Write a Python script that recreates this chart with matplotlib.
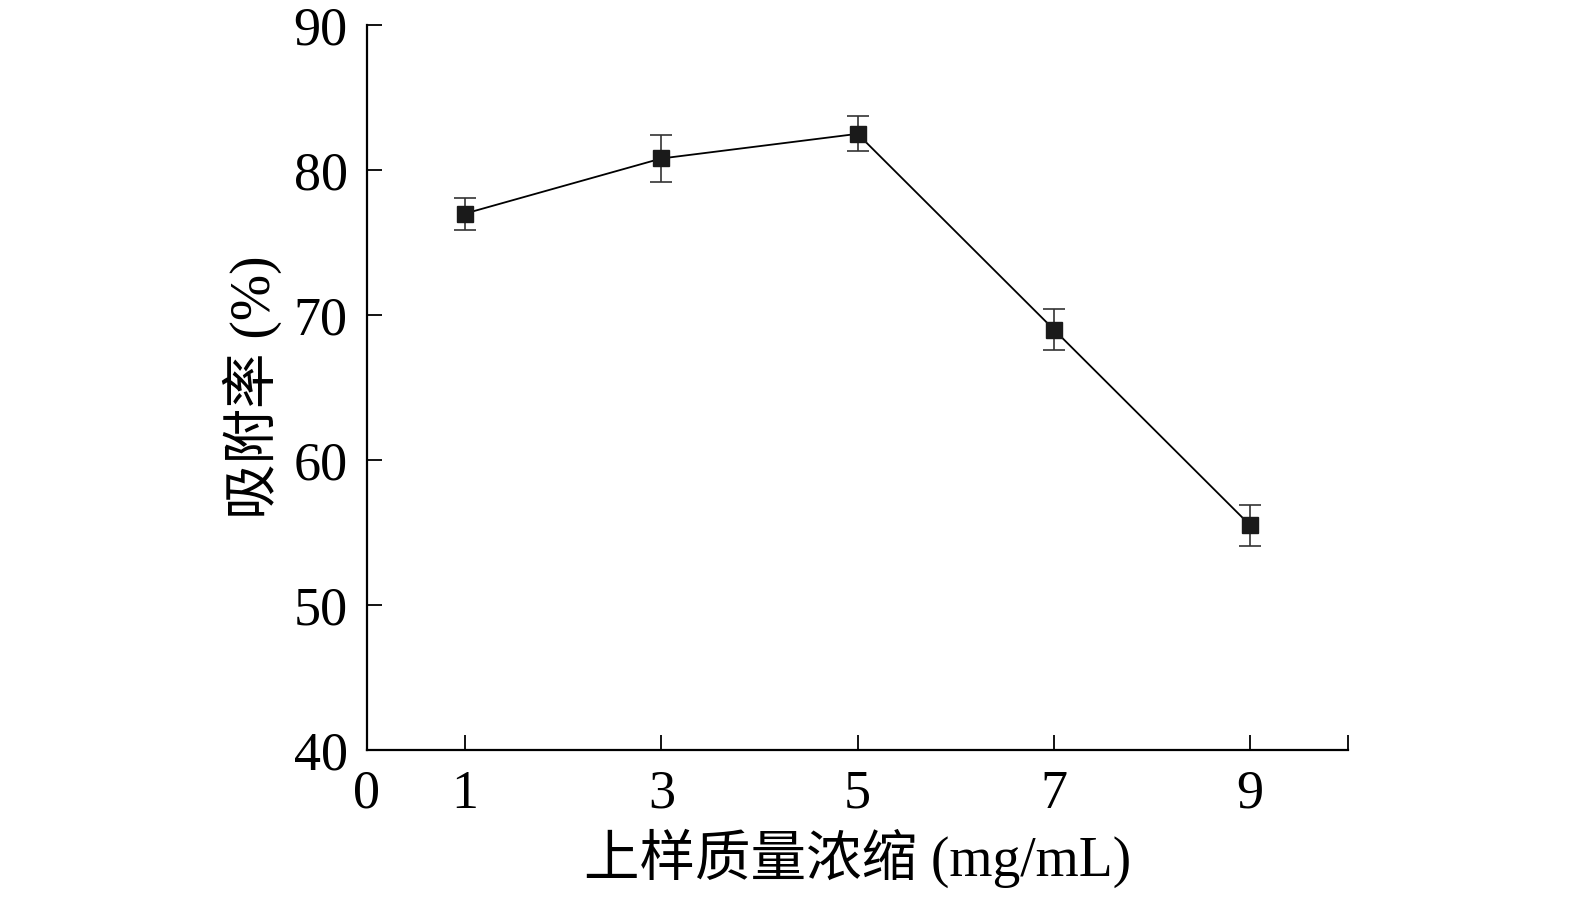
import numpy as np
import matplotlib
matplotlib.use("Agg")
import matplotlib.pyplot as plt

# ── data ──────────────────────────────────────────────────────────────────────
conc = [1, 3, 5, 7, 9]                      # 上样质量浓缩 (mg/mL)
adsorption = [77.0, 80.8, 82.5, 69.0, 55.5]  # 吸附率 (%)
err = [1.1, 1.6, 1.2, 1.4, 1.4]

x_ticks = [0, 1, 3, 5, 7, 9, 10]
x_tick_labels = ["0", "1", "3", "5", "7", "9", ""]
y_ticks = [40, 50, 60, 70, 80, 90]

plt.rcParams["font.family"] = ["Liberation Serif", "Noto Sans CJK SC"]
plt.rcParams["font.size"] = 38

fig = plt.figure(figsize=(15.75, 8.97), dpi=100)
ax = fig.add_axes([0.233, 0.164, 0.623, 0.808])

ax.errorbar(conc, adsorption, yerr=err, color="black", linewidth=1.3,
            marker="s", markersize=12, markerfacecolor="#1a1a1a",
            markeredgecolor="#1a1a1a", ecolor="#333333", elinewidth=1.2,
            capsize=8, capthick=1.2)

ax.set_xlim(0, 10)
ax.set_ylim(40, 90)
ax.set_xticks(x_ticks)
ax.set_xticklabels(x_tick_labels)
ax.set_yticks(y_ticks)

for side in ("top", "right"):
    ax.spines[side].set_visible(False)
for side in ("left", "bottom"):
    ax.spines[side].set_linewidth(1.6)

ax.tick_params(axis="both", direction="in", length=11, width=1.3,
               labelsize=39, pad=14)

ax.set_xlabel("上样质量浓缩 (mg/mL)", fontsize=40, labelpad=6)
ax.set_ylabel("吸附率 (%)", fontsize=40, labelpad=8)

fig.savefig("out.png", dpi=100)
